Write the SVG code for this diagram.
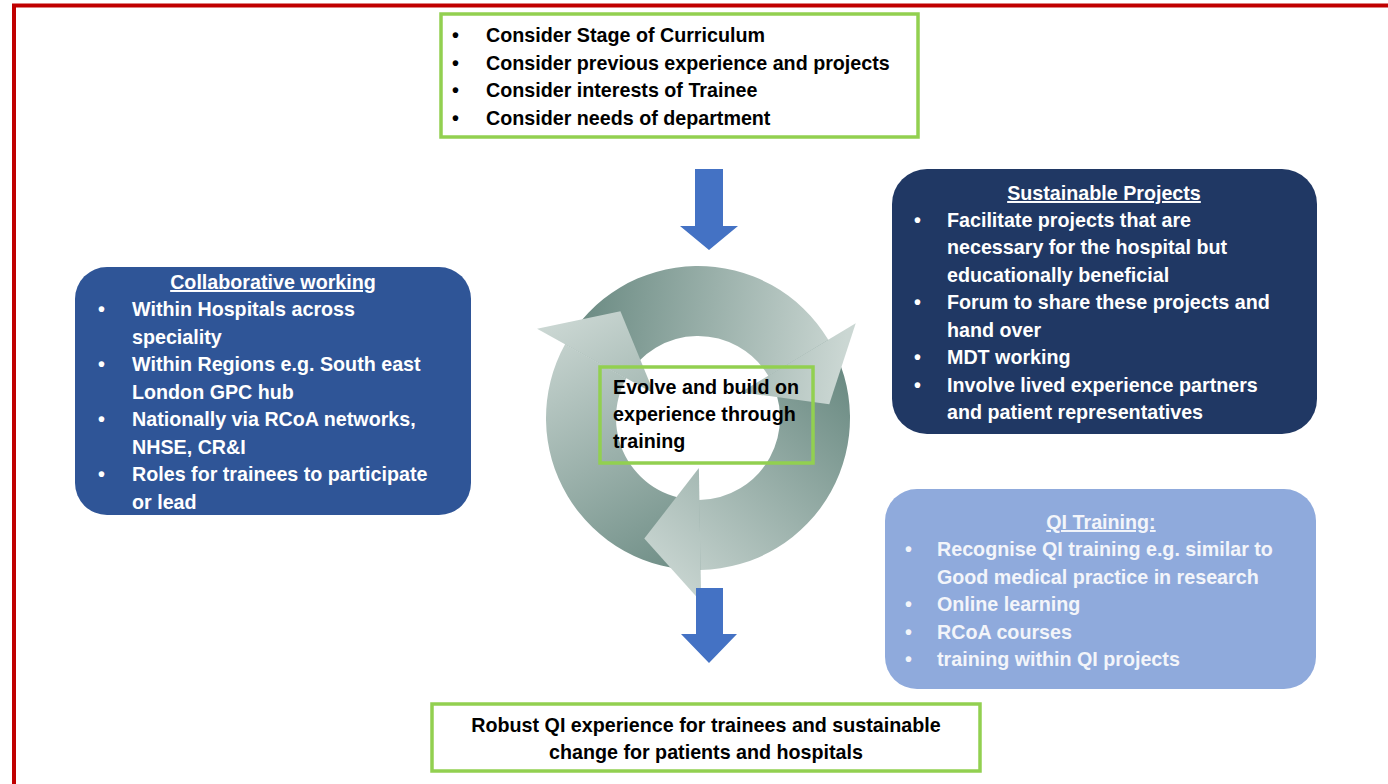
<svg xmlns="http://www.w3.org/2000/svg" width="1388" height="784" viewBox="0 0 1388 784">
  <defs>
    <style>
      text { font-family: "Liberation Sans", Arial, sans-serif; font-weight: bold; font-size: 19.7px; }
      .dark { fill: #000000; }
      .light { fill: #ffffff; }
      .soft { fill: #f3f5fa; }
      .head { text-decoration: underline; text-anchor: middle; }
      .mid { text-anchor: middle; }
      .outline { fill: none; stroke: #92d050; stroke-width: 3.5; }
      .block { fill: #4472c4; }
    </style>
    <!-- shading for the three ring segments: dark at the tail, pale at the head -->
    <linearGradient id="gTop" gradientUnits="userSpaceOnUse" x1="575" y1="320" x2="845" y2="350">
      <stop offset="0" stop-color="#6a8a82"/>
      <stop offset="1" stop-color="#cbd7d3"/>
    </linearGradient>
    <linearGradient id="gRight" gradientUnits="userSpaceOnUse" x1="845" y1="370" x2="650" y2="575">
      <stop offset="0" stop-color="#6a8a82"/>
      <stop offset="1" stop-color="#cbd7d3"/>
    </linearGradient>
    <linearGradient id="gLeft" gradientUnits="userSpaceOnUse" x1="700" y1="575" x2="555" y2="320">
      <stop offset="0" stop-color="#6a8a82"/>
      <stop offset="1" stop-color="#cbd7d3"/>
    </linearGradient>
  </defs>

  <rect x="0" y="0" width="1388" height="784" fill="#ffffff"/>
  <!-- red frame, runs off the right and bottom edges -->
  <rect x="14" y="5.5" width="1400" height="784" fill="none" stroke="#c00000" stroke-width="4"/>

  <!-- cycle: ring bodies first, then the three heads on top -->
  <g id="cycle">
    <path d="M565.06,344.31 A152,152 0 0 1 828.29,339.72 L768.29,375.77 A82,82 0 0 0 626.28,378.25 Z" fill="url(#gTop)"/>
    <path d="M828.29,339.72 A152,152 0 0 1 700.65,569.98 L699.43,499.99 A82,82 0 0 0 768.29,375.77 Z" fill="url(#gRight)"/>
    <path d="M700.65,569.98 A152,152 0 0 1 565.06,344.31 L626.28,378.25 A82,82 0 0 0 699.43,499.99 Z" fill="url(#gLeft)"/>
    <polygon points="855.72,323.24 829.27,404.21 740.86,392.25" fill="url(#gTop)"/>
    <polygon points="701.21,601.97 644.31,538.58 698.87,467.99" fill="url(#gRight)"/>
    <polygon points="537.07,328.80 620.41,311.21 654.27,393.76" fill="url(#gLeft)"/>
  </g>

  <g id="connectors">
    <polygon class="block" points="695,169 723,169 723,226 738,226 709,250 680,226 695,226"/>
    <polygon class="block" points="696,588 723,588 723,634 737,634 709,663 681,634 696,634"/>
  </g>

  <g id="node-considerations">
    <rect class="outline" x="441" y="14" width="477" height="123" fill="#ffffff" style="fill:#ffffff"/>
    <text class="dark" x="452" y="42">•</text>
    <text class="dark" x="486" y="42">Consider Stage of Curriculum</text>
    <text class="dark" x="452" y="69.6">•</text>
    <text class="dark" x="486" y="69.6">Consider previous experience and projects</text>
    <text class="dark" x="452" y="97.2">•</text>
    <text class="dark" x="486" y="97.2">Consider interests of Trainee</text>
    <text class="dark" x="452" y="124.8">•</text>
    <text class="dark" x="486" y="124.8">Consider needs of department</text>
  </g>

  <g id="node-collaborative">
    <rect x="75" y="267" width="396" height="248" rx="32" fill="#2f5597"/>
    <text class="light head" x="273" y="289">Collaborative working</text>
    <text class="light" x="98" y="316">•</text>
    <text class="light" x="132" y="316">Within Hospitals across</text>
    <text class="light" x="132" y="343.5">speciality</text>
    <text class="light" x="98" y="371">•</text>
    <text class="light" x="132" y="371">Within Regions e.g. South east</text>
    <text class="light" x="132" y="398.5">London GPC hub</text>
    <text class="light" x="98" y="426">•</text>
    <text class="light" x="132" y="426">Nationally via RCoA networks,</text>
    <text class="light" x="132" y="453.5">NHSE, CR&amp;I</text>
    <text class="light" x="98" y="481">•</text>
    <text class="light" x="132" y="481">Roles for trainees to participate</text>
    <text class="light" x="132" y="508.5">or lead</text>
  </g>

  <g id="node-sustainable">
    <rect x="892" y="169" width="425" height="265" rx="35" fill="#203864"/>
    <text class="light head" x="1104" y="200">Sustainable Projects</text>
    <text class="light" x="914" y="226.7">•</text>
    <text class="light" x="947" y="226.7">Facilitate projects that are</text>
    <text class="light" x="947" y="254.2">necessary for the hospital but</text>
    <text class="light" x="947" y="281.7">educationally beneficial</text>
    <text class="light" x="914" y="309.2">•</text>
    <text class="light" x="947" y="309.2">Forum to share these projects and</text>
    <text class="light" x="947" y="336.7">hand over</text>
    <text class="light" x="914" y="364.2">•</text>
    <text class="light" x="947" y="364.2">MDT working</text>
    <text class="light" x="914" y="391.7">•</text>
    <text class="light" x="947" y="391.7">Involve lived experience partners</text>
    <text class="light" x="947" y="419.2">and patient representatives</text>
  </g>

  <g id="node-qi-training">
    <rect x="885" y="489" width="431" height="200" rx="32" fill="#8faadc"/>
    <text class="soft head" x="1101" y="529">QI Training:</text>
    <text class="soft" x="905" y="556">•</text>
    <text class="soft" x="937" y="556">Recognise QI training e.g. similar to</text>
    <text class="soft" x="937" y="583.5">Good medical practice in research</text>
    <text class="soft" x="905" y="611">•</text>
    <text class="soft" x="937" y="611">Online learning</text>
    <text class="soft" x="905" y="638.5">•</text>
    <text class="soft" x="937" y="638.5">RCoA courses</text>
    <text class="soft" x="905" y="666">•</text>
    <text class="soft" x="937" y="666">training within QI projects</text>
  </g>

  <g id="node-evolve">
    <rect class="outline" x="600" y="367" width="213" height="96"/>
    <text class="dark" x="613" y="394">Evolve and build on</text>
    <text class="dark" x="613" y="421">experience through</text>
    <text class="dark" x="613" y="448">training</text>
  </g>

  <g id="node-outcome">
    <rect class="outline" x="432" y="704" width="548" height="67" style="fill:#ffffff"/>
    <text class="dark mid" x="706" y="731.5">Robust QI experience for trainees and sustainable</text>
    <text class="dark mid" x="706" y="759">change for patients and hospitals</text>
  </g>
</svg>
